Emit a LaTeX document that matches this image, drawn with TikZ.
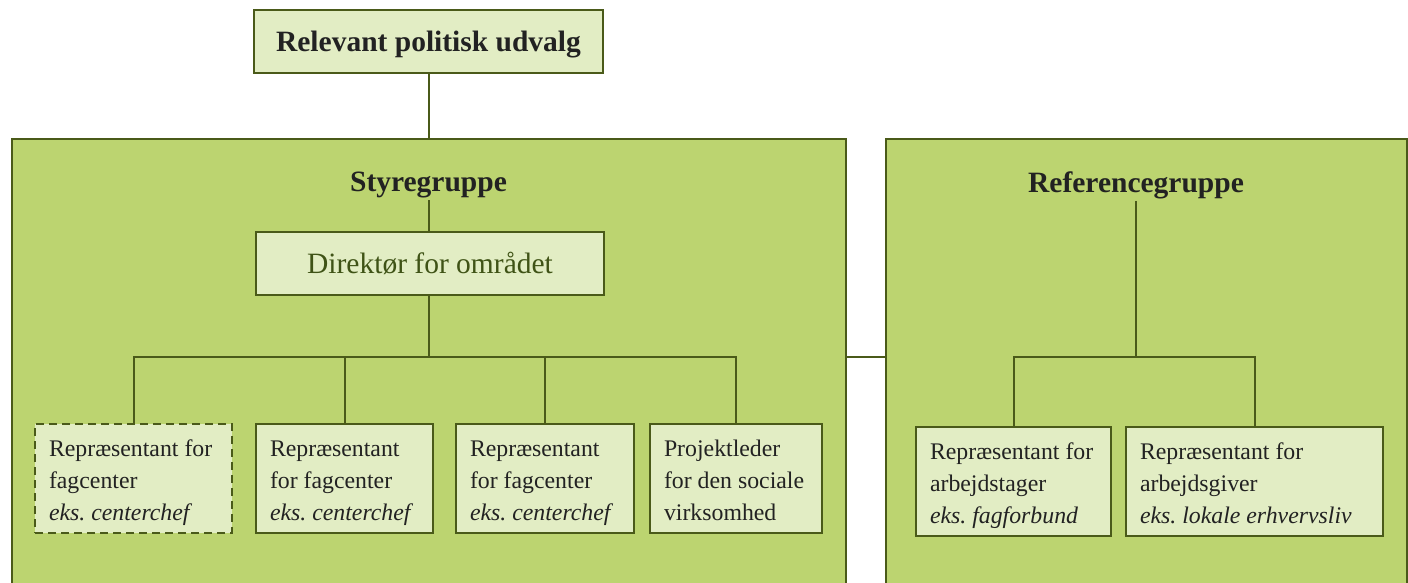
\documentclass[tikz,border=0pt]{standalone}
\usepackage{fontspec}
\setmainfont{Liberation Serif}
\usepackage{tikz}
\usetikzlibrary{positioning,calc}
\definecolor{lysgroen}{HTML}{E2EDC4}
\definecolor{groen}{HTML}{BCD470}
\definecolor{kant}{HTML}{4A5A19}
\definecolor{tekst}{HTML}{222222}
\definecolor{olivtekst}{HTML}{3F5316}
\tikzstyle{gruppe} = [draw=kant, fill=groen, line width=2pt, rectangle, anchor=north west, inner sep=0pt, outer sep=0pt]
\tikzstyle{overskrift} = [text=tekst, font=\fontsize{29.5}{35}\selectfont\bfseries, inner sep=2pt]
\tikzstyle{topboks} = [draw=kant, fill=lysgroen, line width=2pt, rectangle, minimum width=349pt, minimum height=63pt, outer sep=0pt]
\tikzstyle{boks} = [draw=kant, fill=lysgroen, line width=2.5pt, rectangle, minimum height=109pt, inner xsep=14pt, outer sep=0pt, align=flush left, text height=26pt, text depth=70pt, text=tekst, font=\fontsize{23.8}{32}\selectfont\frenchspacing, anchor=north west]
\tikzstyle{stiplet} = [dash pattern=on 8pt off 5pt]
\tikzstyle{forbind} = [draw=kant, line width=2pt]

\begin{document}
\begin{tikzpicture} [x=1pt,y=-1pt]

		\useasboundingbox (0,0) rectangle (1408,583);
		\clip (0,0) rectangle (1408,583);

		% grupperne
		\node [gruppe, minimum width=834pt, minimum height=461pt] (styr) at (12,139) {};
		\node [gruppe, minimum width=521pt, minimum height=461pt] (ref) at (886,139) {};

		\node [topboks, overskrift, text depth=0pt] (udvalg) at (428.5,41.5) {Relevant politisk udvalg};
		\node [overskrift] (tstyr) at (428.5,185) {Styregruppe};
		\node [overskrift] (tref) at (1136,185) {Referencegruppe};
		\node [topboks, minimum width=348pt, text=olivtekst, font=\fontsize{29.5}{35}\selectfont] (dir) at (430,263.5) {Direktør for området};

		% styregruppe
		\node [boks, stiplet, text width=169pt] (b1) at (35,424) {Repræsentant for\\fagcenter\\\textit{eks. centerchef}};
		\node [boks, text width=149pt] (b2) at (256,424) {Repræsentant\\for fagcenter\\\textit{eks. centerchef}};
		\node [boks, text width=150pt] (b3) at (456,424) {Repræsentant\\for fagcenter\\\textit{eks. centerchef}};
		\node [boks, text width=144pt] (b4) at (650,424) {Projektleder\\for den sociale\\virksomhed};

		% referencegruppe
		\node [boks, text width=167pt] (b5) at (916,427) {Repræsentant for\\arbejdstager\\\textit{eks. fagforbund}};
		\node [boks, text width=229pt] (b6) at (1126,427) {Repræsentant for\\arbejdsgiver\\\textit{eks. lokale erhvervsliv}};

		\coordinate (gren) at (428.5,357);

		\draw [forbind] (udvalg.south) -- (udvalg.south |- styr.north);
		\draw [forbind] (tstyr.south) -- (tstyr.south |- dir.north);
		\draw [forbind] (dir.south -| tstyr.south) -- (tstyr.south |- gren);
		\draw [forbind] (b1.north) |- (b4.north |- gren) -- (b4.north);
		\foreach \b in {b2,b3}
			\draw [forbind] (\b.north) -- (\b.north |- gren);
		\draw [forbind] (styr.east |- gren) -- (ref.west |- gren);

		\draw [forbind] (tref.south) -- (tref.south |- gren);
		\draw [forbind] (b5.north) |- (b6.north |- gren) -- (b6.north);

\end{tikzpicture}
\end{document}
